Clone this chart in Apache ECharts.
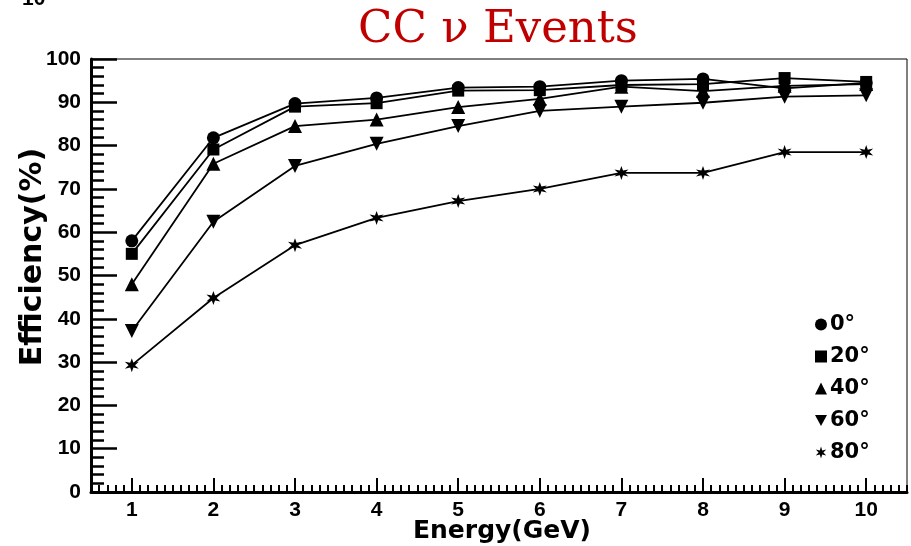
<!DOCTYPE html>
<html>
<head>
<meta charset="utf-8">
<script src="https://cdn.jsdelivr.net/npm/echarts@6.0.0/dist/echarts.min.js"></script>
<style>
  html, body { margin: 0; padding: 0; background: #fff; }
  #chart { width: 911px; height: 546px; }
</style>
</head>
<body>
<div id="chart"></div>
<script>
// beam energy (GeV)
const energy = [1, 2, 3, 4, 5, 6, 7, 8, 9, 10];
// efficiency (%) per angle
const eff0  = [58.0, 81.8, 89.7, 91.0, 93.4, 93.6, 95.0, 95.4, 93.2, 94.5];
const eff20 = [55.0, 79.1, 89.0, 89.8, 92.7, 92.8, 94.0, 94.2, 95.6, 94.7];
const eff40 = [48.0, 75.8, 84.5, 86.0, 88.9, 90.8, 93.6, 92.6, 93.8, 94.2];
const eff60 = [37.2, 62.4, 75.3, 80.4, 84.5, 88.0, 89.0, 89.9, 91.3, 91.6];
const eff80 = [29.3, 44.8, 57.0, 63.3, 67.2, 70.0, 73.7, 73.7, 78.5, 78.5];
const angles = ['0°', '20°', '40°', '60°', '80°'];

const invTri = 'path://M0,0L12,0L6,11Z';
const star = 'path://M10,0L12,6.54L18.66,5L14,10L18.66,15L12,13.46L10,20L8,13.46L1.34,15L6,10L1.34,5L8,6.54Z';
const symbols = ['circle', 'rect', 'triangle', invTri, star];
const sizes = [13, 12, 14, 14, 14];
const allData = [eff0, eff20, eff40, eff60, eff80];

const chart = echarts.init(document.getElementById('chart'));

const tickFont = { fontFamily: 'Liberation Sans', fontWeight: 'bold', fontSize: 21, color: '#000' };

const option = {
  animation: false,
  backgroundColor: '#fff',
  grid: {
    left: 91, right: 4, top: 59, bottom: 54,
    show: true, borderColor: '#000', borderWidth: 1
  },
  legend: {
    orient: 'vertical',
    left: 810, top: 309,
    itemWidth: 12, itemHeight: 12, itemGap: 11,
    textStyle: { fontFamily: 'DejaVu Sans', fontWeight: 'bold', fontSize: 21, color: '#000', padding: [0, 0, 0, -2] },
    data: angles.map((a, i) => ({ name: a, icon: symbols[i], itemStyle: { color: '#000' } }))
  },
  xAxis: [
    {
      type: 'value', min: 0.5, max: 10.5, splitNumber: 10,
      axisLine: { show: true, lineStyle: { color: '#000', width: 3 } },
      axisTick: { show: true, inside: true, length: 14, lineStyle: { color: '#000', width: 2 } },
      axisLabel: Object.assign({ margin: 8, showMinLabel: false, showMaxLabel: false }, tickFont),
      splitLine: { show: false }
    },
    {
      // minor ticks every 0.1 GeV
      type: 'value', min: 0.5, max: 10.5, interval: 0.1, position: 'bottom',
      axisLine: { show: false },
      axisTick: { show: true, inside: true, length: 7, lineStyle: { color: '#000', width: 2 } },
      axisLabel: { show: false },
      splitLine: { show: false }
    }
  ],
  yAxis: {
    type: 'value', min: 0, max: 100, interval: 10,
    axisLine: { show: true, lineStyle: { color: '#000', width: 3 } },
    axisTick: { show: true, inside: true, length: 26, lineStyle: { color: '#000', width: 2.5 } },
    minorTick: { show: true, splitNumber: 5, length: 13, lineStyle: { color: '#000', width: 2.5 } },
    axisLabel: Object.assign({ margin: 10 }, tickFont),
    splitLine: { show: false }
  },
  graphic: [
    {
      type: 'text', x: 498, y: 30,
      style: { text: 'CC ν Events', fontFamily: 'DejaVu Serif', fontSize: 45, fill: '#c00000', align: 'center', verticalAlign: 'middle' }
    },
    {
      type: 'text', x: 22, y: 10,
      style: { text: '10', fontFamily: 'Liberation Sans', fontWeight: 'bold', fontSize: 21, fill: '#000', verticalAlign: 'bottom' }
    },
    {
      type: 'text', x: 502, y: 531,
      style: { text: 'Energy(GeV)', fontFamily: 'DejaVu Sans', fontWeight: 'bold', fontSize: 25, fill: '#000', align: 'center', verticalAlign: 'middle' }
    },
    {
      type: 'text', x: 33, y: 257, rotation: Math.PI / 2,
      style: { text: 'Efficiency(%)', fontFamily: 'DejaVu Sans', fontWeight: 'bold', fontSize: 30, fill: '#000', align: 'center', verticalAlign: 'middle' }
    }
  ],
  series: angles.map((a, i) => ({
    name: a,
    type: 'line',
    xAxisIndex: 0,
    data: energy.map((e, j) => [e, allData[i][j]]),
    symbol: symbols[i],
    symbolSize: sizes[i],
    showAllSymbol: true,
    lineStyle: { color: '#000', width: 1.8 },
    itemStyle: { color: '#000', borderWidth: 0 },
    z: 3 + i
  }))
};

chart.setOption(option);
window.addEventListener('resize', () => chart.resize());
</script>
</body>
</html>
